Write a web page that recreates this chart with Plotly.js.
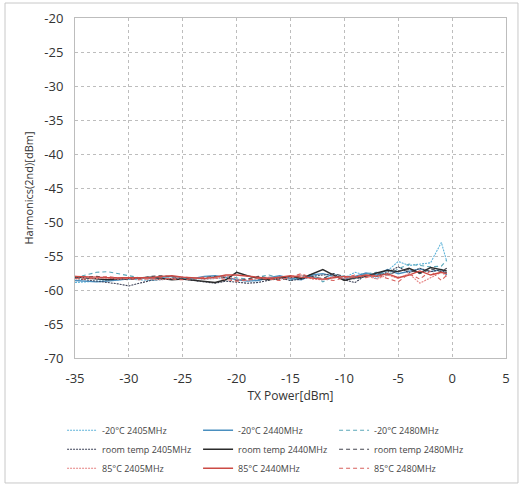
<!DOCTYPE html>
<html>
<head>
<meta charset="utf-8">
<script src="https://cdn.plot.ly/plotly-3.0.1.min.js"></script>
<style>html,body{margin:0;padding:0;background:#fff;}#chart{width:523px;height:486px;}</style>
</head>
<body>
<div id="chart"></div>
<script>
const txPower = [-35,-34,-33,-32,-31,-30,-29,-28,-27,-26,-25,-24,-23,-22,-21,-20,-19,-18,-17,-16,-15,-14,-13,-12,-11,-10,-9,-8,-7,-6,-5,-4,-3,-2,-1,-0.5];

const seriesNames = [
  "-20\u00B0C 2405MHz", "-20\u00B0C 2440MHz", "-20\u00B0C 2480MHz",
  "room temp 2405MHz", "room temp 2440MHz", "room temp 2480MHz",
  "85\u00B0C 2405MHz", "85\u00B0C 2440MHz", "85\u00B0C 2480MHz"
];

const m20_2405 = [-58.9,-58.8,-58.7,-58.6,-58.5,-58.4,-58.5,-58.6,-58.5,-58.3,-58.2,-58.3,-58.4,-58.3,-58.2,-58.4,-58.6,-58.5,-58.3,-58.1,-58.4,-58.2,-58.0,-58.5,-57.6,-58.2,-57.4,-57.8,-58.3,-57.2,-55.8,-56.4,-56.2,-56.0,-53.0,-55.8];
const m20_2440 = [-58.6,-58.7,-58.8,-58.7,-58.5,-58.3,-58.2,-58.3,-58.1,-58.0,-58.2,-58.3,-58.0,-57.9,-58.1,-58.5,-58.7,-58.6,-58.2,-57.9,-58.3,-58.5,-57.8,-57.6,-58.0,-58.4,-58.0,-57.5,-57.8,-57.0,-57.6,-57.2,-56.9,-57.3,-57.0,-57.8];
const m20_2480 = [-58.2,-57.8,-57.4,-57.3,-57.6,-58.0,-58.2,-58.4,-58.3,-58.2,-58.4,-58.3,-58.2,-58.0,-57.9,-58.2,-58.4,-58.1,-57.8,-58.2,-58.6,-58.0,-57.7,-58.8,-58.1,-57.9,-58.3,-57.6,-57.4,-57.8,-56.9,-56.2,-56.4,-56.6,-56.5,-55.6];
const rt_2405 = [-58.3,-58.5,-58.6,-58.8,-59.1,-59.4,-59.0,-58.6,-58.4,-58.3,-58.4,-58.6,-58.8,-59.0,-58.7,-58.8,-59.0,-58.9,-58.5,-58.2,-58.6,-58.4,-58.0,-57.8,-57.6,-58.5,-58.9,-57.8,-58.0,-57.4,-56.6,-57.5,-56.8,-57.3,-57.0,-57.5];
const rt_2440 = [-58.1,-58.2,-58.4,-58.5,-58.4,-58.3,-58.2,-58.1,-58.3,-58.5,-58.4,-58.6,-58.8,-58.9,-58.5,-57.4,-57.9,-58.3,-58.5,-58.2,-58.0,-58.3,-57.7,-57.0,-57.8,-58.6,-58.2,-58.0,-57.5,-57.1,-57.3,-56.8,-57.5,-56.7,-57.0,-57.2];
const rt_2480 = [-58.2,-58.1,-58.0,-58.2,-58.4,-58.5,-58.3,-58.0,-57.9,-58.1,-58.3,-58.4,-58.2,-58.0,-58.2,-58.6,-58.4,-58.0,-58.3,-58.5,-58.2,-57.8,-58.1,-58.3,-57.6,-58.0,-58.4,-57.9,-57.6,-57.8,-57.2,-57.0,-57.6,-56.9,-57.3,-56.8];
const p85_2405 = [-58.0,-58.1,-58.3,-58.2,-58.4,-58.3,-58.2,-58.4,-58.5,-58.3,-58.1,-58.2,-58.4,-58.3,-58.0,-58.4,-58.6,-58.3,-58.1,-58.4,-58.2,-57.8,-58.4,-58.5,-58.0,-58.3,-58.1,-57.9,-58.4,-57.8,-58.3,-57.6,-59.0,-58.2,-57.4,-58.0];
const p85_2440 = [-58.0,-58.0,-58.1,-58.2,-58.2,-58.3,-58.3,-58.2,-58.0,-57.9,-58.1,-58.2,-58.3,-58.1,-57.8,-57.8,-58.0,-58.2,-58.3,-58.1,-57.9,-58.1,-58.3,-58.4,-58.2,-58.0,-58.1,-57.8,-58.0,-57.6,-58.2,-57.8,-57.2,-57.8,-57.4,-57.6];
const p85_2480 = [-58.3,-58.4,-58.2,-58.0,-58.2,-58.4,-58.5,-58.3,-58.2,-58.4,-58.5,-58.3,-58.1,-58.2,-58.4,-58.7,-58.5,-58.3,-58.4,-58.6,-58.1,-57.6,-58.2,-58.4,-58.6,-58.2,-57.8,-58.2,-57.8,-58.3,-58.8,-57.6,-58.4,-57.2,-58.6,-57.8];

const xTicks = [-35,-30,-25,-20,-15,-10,-5,0,5];
const yTicks = [-70,-65,-60,-55,-50,-45,-40,-35,-30,-25,-20];

const values = [m20_2405, m20_2440, m20_2480, rt_2405, rt_2440, rt_2480, p85_2405, p85_2440, p85_2480];
const colors = ["#5fb3d9","#4a8fbf","#5aa6b8","#3a3f55","#2b2b2b","#44464f","#e58080","#cc4a44","#d8605c"];
const dashes = ["2px,1px","solid","4px,3px","2px,1px","solid","4px,3px","2px,1px","solid","4px,3px"];

const traces = values.map((v, i) => ({
  x: txPower, y: v, name: seriesNames[i], type: "scatter", mode: "lines",
  line: {color: colors[i], width: dashes[i] === "solid" ? 1.4 : 1.1, dash: dashes[i]}
}));

const fnt = "Open Sans, DejaVu Sans, sans-serif";
const layout = {
  width: 523, height: 486,
  margin: {l: 75, r: 17, t: 18, b: 128, autoexpand: false},
  paper_bgcolor: "#fff", plot_bgcolor: "#fff",
  font: {family: fnt, color: "#333", size: 12},
  xaxis: {
    range: [-35, 5], tickvals: xTicks, ticktext: xTicks.map(String),
    showline: true, mirror: true, linecolor: "#bdbdbd", linewidth: 1,
    showgrid: true, gridcolor: "#bdbdbd", griddash: "dot", gridwidth: 1,
    zeroline: false, ticks: "", ticklabelstandoff: 8, tickfont: {size: 13, color: "#333"},
    title: {text: "TX Power[dBm]", font: {size: 12, color: "#333"}, standoff: 6}
  },
  yaxis: {
    range: [-70, -20], tickvals: yTicks, ticktext: yTicks.map(String),
    showline: true, mirror: true, linecolor: "#bdbdbd", linewidth: 1,
    showgrid: true, gridcolor: "#bdbdbd", griddash: "dot", gridwidth: 1,
    zeroline: false, ticks: "", ticklabelstandoff: 8, tickfont: {size: 13, color: "#333"},
    title: {text: "Harmonics(2nd)[dBm]", font: {size: 11, color: "#333"}, standoff: 8}
  },
  showlegend: true,
  legend: {
    orientation: "h", x: -0.03, xanchor: "left", y: -0.17, yanchor: "top",
    entrywidth: 91, entrywidthmode: "pixels", traceorder: "normal",
    font: {size: 9, color: "#444"}, bgcolor: "rgba(0,0,0,0)"
  },
  shapes: [{
    type: "rect", xref: "paper", yref: "paper",
    x0: -0.1624, x1: 1.0278, y0: -0.3676, y1: 1.0441,
    line: {color: "#c8c8c8", width: 1}
  }]
};

Plotly.newPlot("chart", traces, layout, {staticPlot: true, displayModeBar: false});
</script>
</body>
</html>
